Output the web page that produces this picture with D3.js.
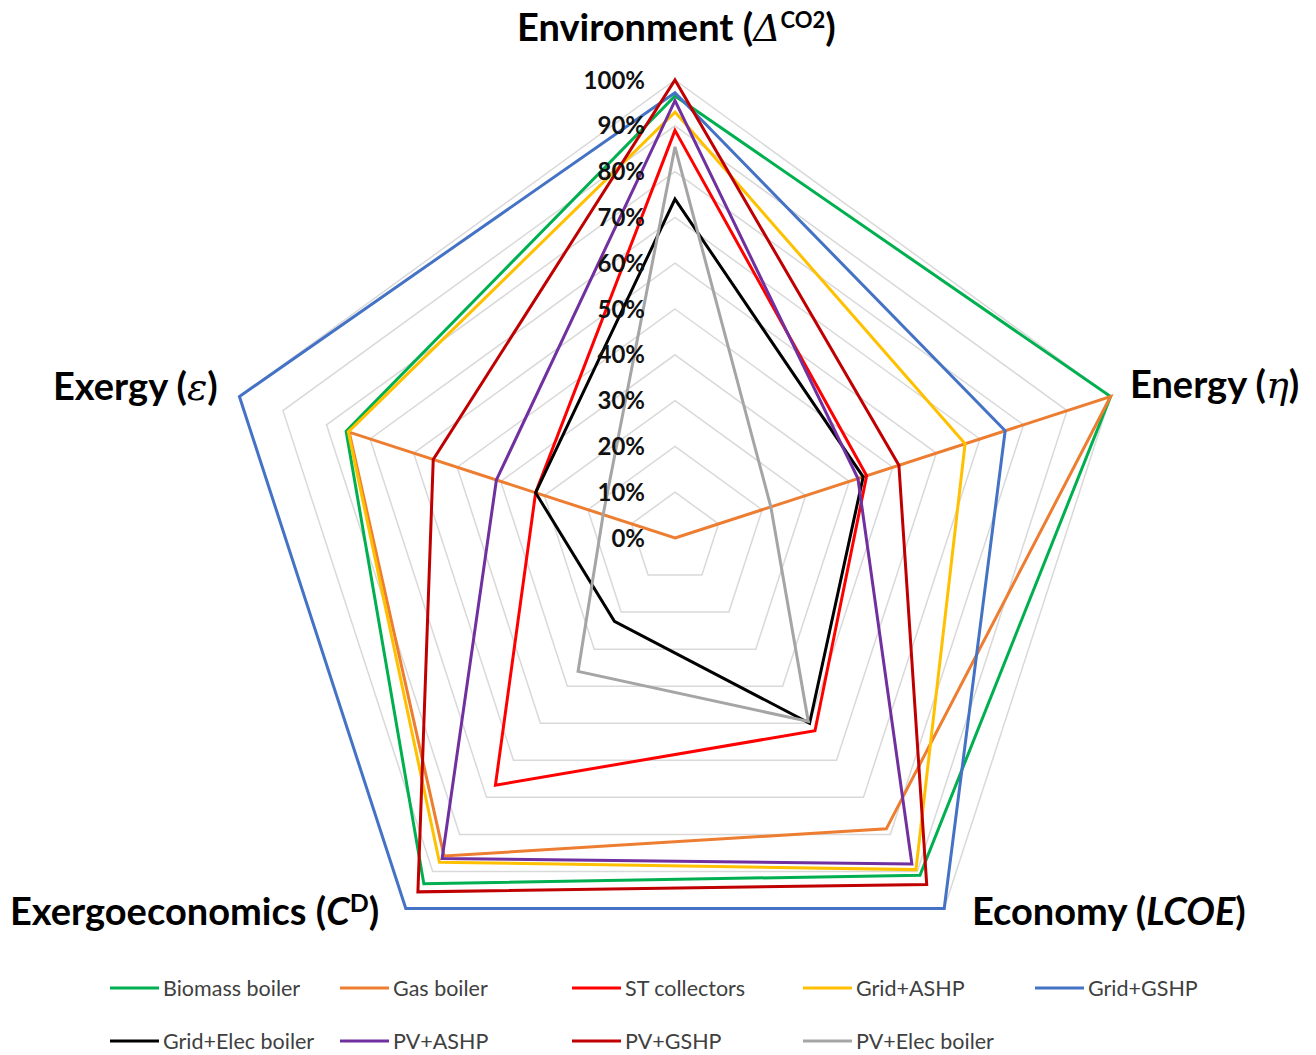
<!DOCTYPE html>
<html>
<head>
<meta charset="utf-8">
<script src="https://cdn.jsdelivr.net/npm/d3@7"></script>
<style>
  html, body { margin: 0; padding: 0; background: #ffffff; }
  svg { display: block; }
</style>
</head>
<body>
<script>
// ---------------- DATA ----------------
const axesNames = ["Environment", "Energy", "Economy", "Exergoeconomics", "Exergy"];
const tickLevels = [0, 0.1, 0.2, 0.3, 0.4, 0.5, 0.6, 0.7, 0.8, 0.9, 1.0];
const tickLabels = ["0%", "10%", "20%", "30%", "40%", "50%", "60%", "70%", "80%", "90%", "100%"];

const seriesNames = ["Biomass boiler", "Gas boiler", "ST collectors", "Grid+ASHP", "Grid+GSHP",
                     "Grid+Elec boiler", "PV+ASHP", "PV+GSHP", "PV+Elec boiler"];
const seriesColors = ["#00B050", "#ED7D31", "#FF0000", "#FFC000", "#4472C4",
                      "#000000", "#7030A0", "#C00000", "#A5A5A5"];

// values per axis: Environment, Energy, Economy, Exergoeconomics, Exergy
const biomassBoiler  = [0.965, 1.000, 0.910, 0.933, 0.755];
const gasBoiler      = [0.000, 1.000, 0.785, 0.858, 0.748];
const stCollectors   = [0.890, 0.440, 0.520, 0.667, 0.320];
const gridASHP       = [0.930, 0.666, 0.895, 0.875, 0.750];
const gridGSHP       = [0.972, 0.758, 1.000, 1.000, 1.000];
const gridElecBoiler = [0.740, 0.432, 0.500, 0.225, 0.320];
const pvASHP         = [0.955, 0.420, 0.880, 0.865, 0.410];
const pvGSHP         = [1.000, 0.514, 0.935, 0.955, 0.555];
const pvElecBoiler   = [0.854, 0.220, 0.495, 0.360, 0.165];

const seriesValues = [biomassBoiler, gasBoiler, stCollectors, gridASHP, gridGSHP,
                      gridElecBoiler, pvASHP, pvGSHP, pvElecBoiler];

// ---------------- LAYOUT ----------------
const W = 1316, H = 1055;
const cx = 675, cy = 538, R = 458;

const svg = d3.select("body").append("svg").attr("width", W).attr("height", H);

const rScale = d3.scaleLinear().domain([0, 1]).range([0, R]);
const angle = d3.scaleLinear().domain([0, axesNames.length]).range([0, 2 * Math.PI]);

const radial = d3.lineRadial()
  .angle((d, i) => angle(i))
  .radius(d => rScale(d))
  .curve(d3.curveLinearClosed);

const g = svg.append("g").attr("transform", `translate(${cx},${cy})`);

// grid rings
g.append("g").selectAll("path")
  .data(tickLevels.filter(v => v > 0))
  .join("path")
  .attr("d", lv => radial(axesNames.map(() => lv)))
  .attr("fill", "none")
  .attr("stroke", "#d9d9d9")
  .attr("stroke-width", 1.5);

// series
g.append("g").selectAll("path")
  .data(seriesValues)
  .join("path")
  .attr("d", vals => radial(vals))
  .attr("fill", "none")
  .attr("stroke", (d, i) => seriesColors[i])
  .attr("stroke-width", 3)
  .attr("stroke-linejoin", "miter");

// tick labels
g.append("g").selectAll("text")
  .data(tickLevels)
  .join("text")
  .attr("x", -30)
  .attr("y", v => -rScale(v))
  .attr("dy", "0.36em")
  .attr("text-anchor", "end")
  .attr("font-family", "Lato, 'Open Sans', sans-serif")
  .attr("font-weight", "bold")
  .attr("font-size", 24)
  .attr("fill", "#111")
  .text((v, i) => tickLabels[i]);

// axis titles
const FONT = "Lato, 'Open Sans', sans-serif";
const SERIF = "'DejaVu Serif', 'Liberation Serif', serif";
const titleSize = 38;

function title(x, y, parts) {
  const t = svg.append("text")
    .attr("x", x).attr("y", y)
    .attr("font-family", FONT)
    .attr("font-weight", "bold")
    .attr("font-size", titleSize)
    .attr("fill", "#000");
  parts.forEach(p => {
    const s = t.append("tspan").text(p.t);
    if (p.serif) s.attr("font-family", SERIF).attr("font-weight", "normal");
    if (p.italic) s.attr("font-style", "italic");
    if (p.size) s.attr("font-size", p.size);
    if (p.dy) s.attr("dy", p.dy);
  });
  return t;
}

title(517, 41, [
  {t: "Environment ("},
  {t: "\u0394", serif: true, italic: true},
  {t: "CO2", size: 22, dy: -13},
  {t: ")", dy: 13}
]);
title(1130, 398, [
  {t: "Energy ("},
  {t: "\u03B7", serif: true, italic: true},
  {t: ")"}
]);
title(53, 400, [
  {t: "Exergy ("},
  {t: "\u03B5", serif: true, italic: true},
  {t: ")"}
]);
title(10, 925, [
  {t: "Exergoeconomics ("},
  {t: "C", italic: true},
  {t: "D", size: 25, dy: -13},
  {t: ")", dy: 13}
]);
title(972, 925, [
  {t: "Economy ("},
  {t: "LCOE", italic: true},
  {t: ")"}
]);

// legend
const legendCols = [110, 340, 572, 803, 1035];
const legendRows = [988, 1041];
const leg = svg.append("g").selectAll("g")
  .data(seriesNames)
  .join("g")
  .attr("transform", (d, i) => `translate(${legendCols[i % 5]},${legendRows[Math.floor(i / 5)]})`);
leg.append("line")
  .attr("x1", 0).attr("x2", 49).attr("y1", 0).attr("y2", 0)
  .attr("stroke", (d, i) => seriesColors[i])
  .attr("stroke-width", 3);
leg.append("text")
  .attr("x", 53).attr("y", 0).attr("dy", "0.35em")
  .attr("font-family", FONT)
  .attr("font-size", 21.5)
  .attr("fill", "#404040")
  .text(d => d);
</script>
</body>
</html>
